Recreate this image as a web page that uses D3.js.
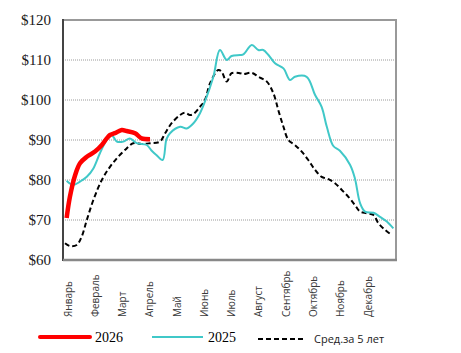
<!DOCTYPE html>
<html>
<head>
<meta charset="utf-8">
<script src="https://cdn.jsdelivr.net/npm/d3@7"></script>
<style>
  body { margin: 0; background: #fff; }
</style>
</head>
<body>
<svg id="chart" width="461" height="353"></svg>
<script>
// month labels (x = month index, 0 = Январь)
const months = ["Январь", "Февраль", "Март", "Апрель", "Май", "Июнь",
                "Июль", "Август", "Сентябрь", "Октябрь", "Ноябрь", "Декабрь"];
const yTicks = [60, 70, 80, 90, 100, 110, 120];

// [month position, price $]
const s2026 = [
    [-0.05, 70.5], [0.07, 75.8], [0.26, 81.2], [0.44, 84.2], [0.69, 85.8],
    [0.99, 87.1], [1.24, 88.75], [1.42, 90.4], [1.54, 91.25], [1.72, 91.7],
    [1.97, 92.5], [2.15, 92.25], [2.46, 91.7], [2.70, 90.4], [3.01, 90.2]
];

const s2025 = [
    [-0.05, 79.8], [0.19, 78.75], [0.44, 79.6], [0.69, 80.8], [0.93, 82.9],
    [1.17, 86.7], [1.42, 90], [1.60, 91.25], [1.79, 89.6], [2.03, 89.6],
    [2.27, 90.4], [2.52, 89.2], [2.89, 88.75], [3.07, 87.3], [3.25, 86.2],
    [3.47, 85], [3.61, 90.2], [3.74, 91.7], [4.11, 93.3], [4.35, 92.9],
    [4.60, 94.2], [4.84, 96.7], [5.02, 99.6], [5.33, 105.8], [5.57, 112.5],
    [5.82, 110], [6.00, 111], [6.31, 111.25], [6.43, 111.4], [6.74, 113.75],
    [6.98, 112.5], [7.16, 112.5], [7.35, 111.25], [7.59, 109.2], [7.90, 107.9],
    [8.14, 105], [8.32, 105.8], [8.75, 105.8], [9.06, 101.25], [9.30, 98.3],
    [9.49, 93.3], [9.73, 88.5], [9.97, 87.3], [10.34, 83.8], [10.52, 80.4],
    [10.71, 74.2], [10.89, 72.1], [11.20, 71.8], [11.44, 70.8], [11.69, 69.6],
    [11.93, 67.9]
];

const avg5 = [
    [-0.11, 64.2], [0.07, 63.5], [0.32, 63.75], [0.50, 65.8], [0.69, 70],
    [0.93, 75], [1.24, 80], [1.54, 83.3], [1.84, 85.8], [2.15, 87.9],
    [2.39, 89.2], [2.70, 89], [3.01, 89.2], [3.37, 89.6], [3.56, 91.7],
    [3.80, 94.2], [4.11, 96.25], [4.29, 96.8], [4.47, 96.25], [4.60, 96.5],
    [4.84, 98.3], [5.02, 100], [5.21, 104.2], [5.51, 107.5], [5.63, 107.1],
    [5.82, 104.6], [6.00, 106.7], [6.31, 106.7], [6.43, 106.5], [6.74, 106.8],
    [6.98, 105.8], [7.29, 104.6], [7.53, 101.7], [7.71, 97.5], [7.90, 93.3],
    [8.08, 90], [8.32, 88.75], [8.57, 87.1], [8.81, 85], [9.06, 82.5],
    [9.30, 80.8], [9.55, 80.2], [9.79, 79.2], [10.04, 77.5], [10.28, 75.8],
    [10.52, 73.75], [10.71, 72.1], [10.95, 71.7], [11.20, 71.25], [11.38, 69.2],
    [11.63, 67.5], [11.87, 66.25]
];

const svg = d3.select("#chart");
const plotLeft = 63, plotRight = 396, plotTop = 20, plotBottom = 260;

const xScale = d3.scaleLinear().domain([0, 11]).range([68, 368]);
const yScale = d3.scaleLinear().domain([60, 120]).range([plotBottom, plotTop]);

// gridlines
svg.append("g")
    .selectAll("line")
    .data(yTicks.filter(d => d > 60 && d < 120))
    .enter()
    .append("line")
    .attr("x1", plotLeft).attr("x2", plotRight)
    .attr("y1", d => yScale(d)).attr("y2", d => yScale(d))
    .style("stroke", "#9a9a9a")
    .style("stroke-width", 1)
    .style("stroke-dasharray", "1,1");

// frame
svg.append("rect")
    .attr("x", plotLeft).attr("y", plotTop)
    .attr("width", plotRight - plotLeft).attr("height", plotBottom - plotTop)
    .style("fill", "none")
    .style("stroke", "#999")
    .style("stroke-width", 2);
svg.append("line")
    .attr("x1", plotLeft).attr("x2", plotLeft).attr("y1", plotTop - 1).attr("y2", plotBottom + 1)
    .style("stroke", "#444").style("stroke-width", 2);
svg.append("line")
    .attr("x1", plotLeft).attr("x2", plotRight + 1).attr("y1", plotBottom).attr("y2", plotBottom)
    .style("stroke", "#888").style("stroke-width", 2.5);

// y labels
svg.append("g")
    .selectAll("text")
    .data(yTicks)
    .enter()
    .append("text")
    .attr("x", 51)
    .attr("y", d => yScale(d))
    .attr("dy", "0.35em")
    .attr("text-anchor", "end")
    .style("font-family", "'Liberation Serif', serif")
    .style("font-size", "15px")
    .style("fill", "#1a1a1a")
    .text(d => "$" + d);

// x labels
svg.append("g")
    .selectAll("text")
    .data(months)
    .enter()
    .append("text")
    .attr("transform", (d, i) => "translate(" + (xScale(i) + 3.5) + ",317) rotate(-90)")
    .attr("text-anchor", "start")
    .style("font-family", "'Open Sans', sans-serif")
    .style("font-size", "10px")
    .style("fill", "#3a3a3a")
    .text(d => d);

const line = d3.line()
    .x(d => xScale(d[0]))
    .y(d => yScale(d[1]))
    .curve(d3.curveCatmullRom);

svg.append("path")
    .datum(avg5)
    .attr("d", line)
    .style("fill", "none")
    .style("stroke", "#000")
    .style("stroke-width", 2)
    .style("stroke-dasharray", "5,3");

svg.append("path")
    .datum(s2025)
    .attr("d", line)
    .style("fill", "none")
    .style("stroke", "#40c8c8")
    .style("stroke-width", 2);

svg.append("path")
    .datum(s2026)
    .attr("d", line)
    .style("fill", "none")
    .style("stroke", "#ff0000")
    .style("stroke-width", 4.5)
    .style("stroke-linejoin", "round");

// legend
const legend = svg.append("g");
legend.append("line")
    .attr("x1", 40).attr("x2", 90).attr("y1", 337).attr("y2", 337)
    .style("stroke", "#ff0000").style("stroke-width", 4).style("stroke-linecap", "round");
legend.append("text")
    .attr("x", 95).attr("y", 342)
    .style("font-family", "'Liberation Serif', serif").style("font-size", "14px")
    .text("2026");
legend.append("line")
    .attr("x1", 152).attr("x2", 203).attr("y1", 337).attr("y2", 337)
    .style("stroke", "#40c8c8").style("stroke-width", 2);
legend.append("text")
    .attr("x", 208).attr("y", 342)
    .style("font-family", "'Liberation Serif', serif").style("font-size", "14px")
    .text("2025");
legend.append("line")
    .attr("x1", 258).attr("x2", 304).attr("y1", 339).attr("y2", 339)
    .style("stroke", "#000").style("stroke-width", 2).style("stroke-dasharray", "5,3");
legend.append("text")
    .attr("x", 314).attr("y", 343)
    .style("font-family", "'Open Sans', sans-serif").style("font-size", "11px")
    .style("fill", "#222")
    .text("Сред.за 5 лет");
</script>
</body>
</html>
